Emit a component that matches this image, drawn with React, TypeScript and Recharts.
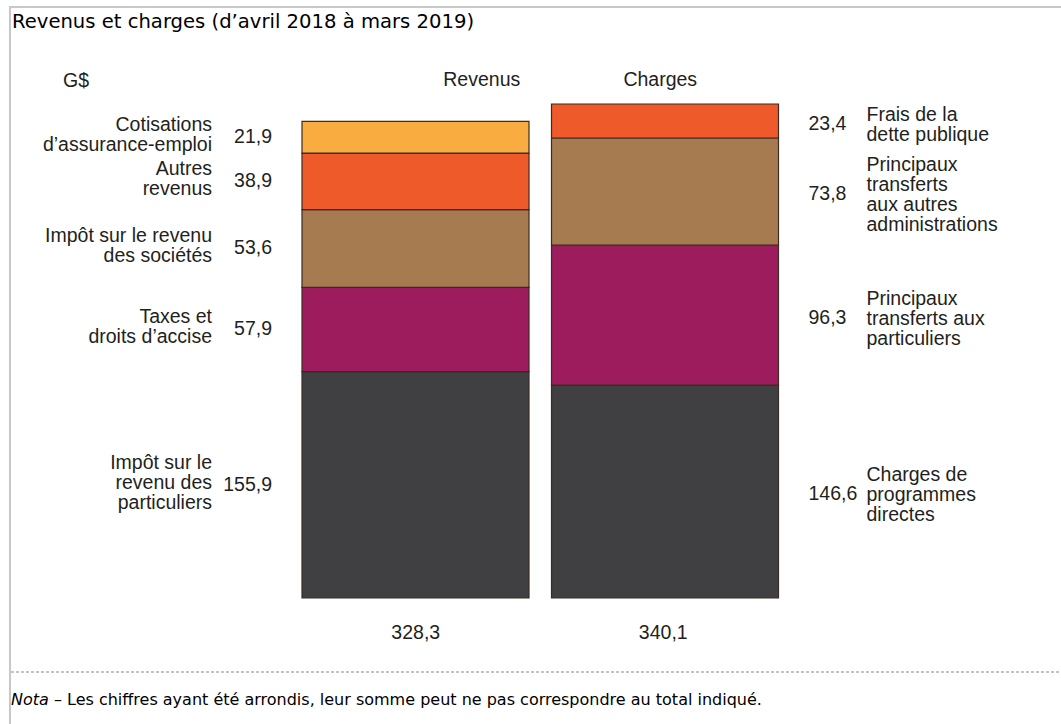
import React from 'react';
import { BarChart, Bar, XAxis, YAxis, LabelList } from 'recharts';

// ---- Data ----
const categories = ['Revenus', 'Charges'];
const totals = ['328,3', '340,1'];
// stack levels, bottom to top
const level1 = [155.9, 146.6];
const level2 = [57.9, 96.3];
const level3 = [53.6, 73.8];
const level4 = [38.9, 23.4];
const level5 = [21.9, 0];
const levelColors = ['#404042', '#9C1C5E', '#A67B50', '#EF5A2A', '#F9AC3F'];

const revenueLabels = [
  ['Impôt sur le', 'revenu des', 'particuliers'],
  ['Taxes et', 'droits d’accise'],
  ['Impôt sur le revenu', 'des sociétés'],
  ['Autres', 'revenus'],
  ['Cotisations', 'd’assurance-emploi'],
];
const chargeLabels = [
  ['Charges de', 'programmes', 'directes'],
  ['Principaux', 'transferts aux', 'particuliers'],
  ['Principaux', 'transferts', 'aux autres', 'administrations'],
  ['Frais de la', 'dette publique'],
];

const levels = [level1, level2, level3, level4, level5];
const data = categories.map((c, i) => ({
  category: c,
  total: totals[i],
  l1: level1[i],
  l2: level2[i],
  l3: level3[i],
  l4: level4[i],
  l5: level5[i],
}));

const FONT = '"Liberation Sans", Arial, sans-serif';
const FS = 19.5;
const fmt = (v: number) => v.toFixed(1).replace('.', ',');

const makeLabel = (level: number) => (props: any) => {
  const { x, y, width, height, index } = props;
  const v = levels[level][index];
  if (!v) return null;
  const cy = Number(y) + Number(height) / 2;
  if (index === 0) {
    const lines = revenueLabels[level];
    const lh = 20;
    const blockC = cy - 3;
    const start = blockC - ((lines.length - 1) * lh) / 2;
    return (
      <g>
        <text x={Number(x) - 30} y={cy - 1 + 6.8} textAnchor="end" fontFamily={FONT} fontSize={FS} fill="#231f20">
          {fmt(v)}
        </text>
        {lines.map((t, k) => (
          <text key={k} x={Number(x) - 90} y={start + k * lh + 6.8} textAnchor="end" fontFamily={FONT} fontSize={FS} fill="#231f20">
            {t}
          </text>
        ))}
      </g>
    );
  }
  const lines = chargeLabels[level];
  const lh = 20;
  const blockC = cy + 3;
  const start = blockC - ((lines.length - 1) * lh) / 2;
  const right = Number(x) + Number(width);
  return (
    <g>
      <text x={right + 30} y={cy + 2 + 6.8} textAnchor="start" fontFamily={FONT} fontSize={FS} fill="#231f20">
        {fmt(v)}
      </text>
      {lines.map((t, k) => (
        <text key={k} x={right + 88} y={start + k * lh + 6.8} textAnchor="start" fontFamily={FONT} fontSize={FS} fill="#231f20">
          {t}
        </text>
      ))}
    </g>
  );
};

const HeaderTick = (props: any) => {
  const { x, y, payload, index } = props;
  const dx = index === 0 ? 66 : -5;
  return (
    <text x={Number(x) + dx} y={Number(y) - 10} textAnchor="middle" fontFamily={FONT} fontSize={FS} fill="#231f20">
      {payload.value}
    </text>
  );
};

const TotalTick = (props: any) => {
  const { x, y, payload, index } = props;
  const dx = index === 0 ? 0 : -2;
  return (
    <text x={Number(x) + dx} y={Number(y) + 33} textAnchor="middle" fontFamily={FONT} fontSize={FS} fill="#231f20">
      {payload.value}
    </text>
  );
};

export default function App() {
  return (
    <div style={{ position: 'absolute', left: 0, top: 0, width: 1061, height: 724, background: '#fff', overflow: 'hidden' }}>
      <div
        style={{
          position: 'absolute',
          left: 9,
          top: 6,
          width: 1052,
          height: 718,
          borderLeft: '2px solid #c8c8c8',
          borderTop: '2px solid #c8c8c8',
        }}
      />
      <div
        style={{
          position: 'absolute',
          left: 12,
          top: 11,
          fontFamily: '"DejaVu Sans", Verdana, sans-serif',
          fontSize: 19.6,
          lineHeight: '22px',
          color: '#000',
          whiteSpace: 'nowrap',
        }}
      >
        Revenus et charges (d’avril 2018 à mars 2019)
      </div>
      <div
        style={{
          position: 'absolute',
          left: 63,
          top: 69,
          fontFamily: FONT,
          fontSize: FS,
          lineHeight: '22px',
          color: '#231f20',
        }}
      >
        G$
      </div>
      <div style={{ position: 'absolute', left: 0, top: 0 }}>
        <BarChart
          width={1061}
          height={660}
          data={data}
          margin={{ top: 74, right: 271, bottom: 32, left: 291 }}
          barSize={227}
        >
          <XAxis xAxisId="top" orientation="top" dataKey="category" axisLine={false} tickLine={false} tick={<HeaderTick />} height={30} interval={0} />
          <XAxis xAxisId="bottom" orientation="bottom" dataKey="total" axisLine={false} tickLine={false} tick={<TotalTick />} height={30} interval={0} />
          <YAxis hide domain={[0, 340.1]} />
          {['l1', 'l2', 'l3', 'l4', 'l5'].map((k, i) => (
            <Bar
              key={k}
              dataKey={k}
              stackId="s"
              xAxisId="bottom"
              fill={levelColors[i]}
              stroke="#3b2b22"
              strokeWidth={1.2}
              isAnimationActive={false}
            >
              <LabelList dataKey={k} content={makeLabel(i)} />
            </Bar>
          ))}
        </BarChart>
      </div>
      <div
        style={{
          position: 'absolute',
          left: 11,
          top: 671,
          width: 1050,
          height: 2,
          backgroundImage: 'repeating-linear-gradient(to right, #c4c4c4 0px, #c4c4c4 3px, transparent 3px, transparent 5px)',
        }}
      />
      <div
        style={{
          position: 'absolute',
          left: 11,
          top: 691,
          fontFamily: '"DejaVu Sans", Verdana, sans-serif',
          fontSize: 16,
          lineHeight: '18px',
          color: '#000',
          whiteSpace: 'nowrap',
        }}
      >
        <i>Nota</i> – Les chiffres ayant été arrondis, leur somme peut ne pas correspondre au total indiqué.
      </div>
    </div>
  );
}
